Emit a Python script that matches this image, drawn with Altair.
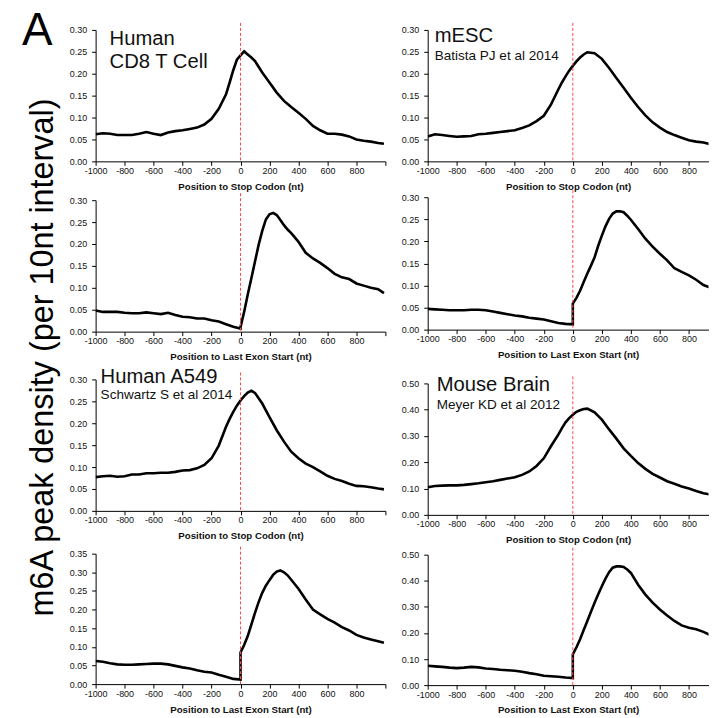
import altair as alt
import pandas as pd

# ---------------- data ----------------
STOP_POS = [-1000, -950, -900, -850, -800, -750, -700, -650, -600, -550,
            -500, -450, -400, -350, -300, -250, -200, -150, -100,
            -75, -50, -25, 0, 25, 50, 75, 100,
            150, 200, 250, 300, 350, 400, 450, 500, 550, 600, 650, 700, 750,
            800, 850, 900, 950, 990]

EXON_POS = [-1000, -950, -900, -850, -800, -750, -700, -650, -600, -550,
            -500, -450, -400, -350, -300, -250, -200, -150, -100, -50,
            0, 0,
            25, 50, 75, 100, 125, 150, 175, 200, 225, 250, 275, 300, 325, 350, 375, 400,
            450, 500, 550, 600, 650, 700, 750, 800, 850, 900, 950, 990]

cd8_stop = [0.062, 0.064, 0.063, 0.060, 0.060, 0.060, 0.063, 0.067, 0.063, 0.060,
            0.066, 0.069, 0.071, 0.074, 0.077, 0.084, 0.097, 0.120, 0.153,
            0.180, 0.208, 0.232, 0.242, 0.251, 0.244, 0.237, 0.229,
            0.203, 0.180, 0.157, 0.138, 0.124, 0.111, 0.097, 0.081, 0.071, 0.063, 0.063, 0.061, 0.057,
            0.050, 0.047, 0.045, 0.042, 0.040]

mesc_stop = [0.057, 0.062, 0.060, 0.058, 0.056, 0.057, 0.058, 0.062, 0.063, 0.065,
             0.067, 0.069, 0.071, 0.076, 0.082, 0.092, 0.104, 0.130, 0.164,
             0.180, 0.194, 0.207, 0.218, 0.228, 0.237, 0.244, 0.249,
             0.247, 0.234, 0.213, 0.190, 0.168, 0.145, 0.124, 0.105, 0.089, 0.077, 0.067, 0.060, 0.054,
             0.048, 0.045, 0.043, 0.039, 0.037]

a549_stop = [0.077, 0.079, 0.080, 0.078, 0.079, 0.083, 0.083, 0.086, 0.086, 0.087,
             0.087, 0.089, 0.092, 0.093, 0.097, 0.105, 0.120, 0.149, 0.192,
             0.210, 0.226, 0.240, 0.252, 0.262, 0.270, 0.274, 0.269,
             0.245, 0.214, 0.184, 0.158, 0.135, 0.120, 0.108, 0.100, 0.090, 0.080, 0.073, 0.068, 0.062,
             0.057, 0.056, 0.054, 0.051, 0.049]

brain_stop = [0.105, 0.110, 0.111, 0.112, 0.112, 0.114, 0.117, 0.120, 0.124, 0.128,
              0.133, 0.138, 0.143, 0.152, 0.165, 0.186, 0.215, 0.262, 0.305,
              0.330, 0.352, 0.368, 0.381, 0.392, 0.398, 0.403, 0.404,
              0.390, 0.362, 0.325, 0.290, 0.253, 0.224, 0.197, 0.175, 0.156, 0.142, 0.128, 0.118, 0.108,
              0.100, 0.091, 0.082, 0.077, 0.075]

cd8_exon = [0.048, 0.045, 0.045, 0.045, 0.043, 0.042, 0.042, 0.044, 0.042, 0.040,
            0.043, 0.038, 0.034, 0.033, 0.030, 0.030, 0.026, 0.023, 0.017, 0.011,
            0.007, 0.010,
            0.045, 0.085, 0.122, 0.160, 0.198, 0.230, 0.256, 0.268, 0.271, 0.266, 0.255, 0.243,
            0.233, 0.225, 0.215, 0.205,
            0.180, 0.167, 0.157, 0.145, 0.132, 0.124, 0.120, 0.110, 0.105, 0.100, 0.097, 0.088]

mesc_exon = [0.047, 0.046, 0.045, 0.044, 0.044, 0.044, 0.045, 0.045, 0.044, 0.041,
             0.038, 0.035, 0.032, 0.030, 0.027, 0.025, 0.023, 0.019, 0.015, 0.013,
             0.012, 0.059,
             0.072, 0.088, 0.108, 0.127, 0.145, 0.164, 0.190, 0.213, 0.234, 0.251, 0.263, 0.268,
             0.268, 0.266, 0.258, 0.249,
             0.228, 0.206, 0.188, 0.172, 0.157, 0.139, 0.131, 0.123, 0.113, 0.101, 0.095, 0.092]

a549_exon = [0.062, 0.060, 0.056, 0.053, 0.052, 0.052, 0.053, 0.054, 0.055, 0.055,
             0.053, 0.049, 0.045, 0.042, 0.037, 0.033, 0.031, 0.025, 0.020, 0.014,
             0.012, 0.085,
             0.105, 0.129, 0.160, 0.191, 0.220, 0.245, 0.264, 0.279, 0.293, 0.302, 0.305, 0.300,
             0.292, 0.280, 0.268, 0.256,
             0.227, 0.200, 0.187, 0.175, 0.165, 0.153, 0.144, 0.132, 0.125, 0.120, 0.115, 0.111]

brain_exon = [0.074, 0.072, 0.070, 0.067, 0.065, 0.067, 0.070, 0.068, 0.064, 0.062,
              0.059, 0.057, 0.055, 0.051, 0.046, 0.042, 0.036, 0.034, 0.032, 0.029,
              0.027, 0.118,
              0.145, 0.176, 0.211, 0.246, 0.281, 0.316, 0.348, 0.379, 0.408, 0.433, 0.450, 0.455,
              0.455, 0.453, 0.443, 0.430,
              0.385, 0.347, 0.316, 0.290, 0.267, 0.246, 0.229, 0.220, 0.214, 0.204, 0.191, 0.186]

Y30 = [0, 0.05, 0.10, 0.15, 0.20, 0.25, 0.30]
Y35 = [0, 0.05, 0.10, 0.15, 0.20, 0.25, 0.30, 0.35]
Y50 = [0, 0.10, 0.20, 0.30, 0.40, 0.50]

STOP_TITLE = "Position to Stop Codon (nt)"
EXON_TITLE = "Position to Last Exon Start (nt)"

FONT = "Liberation Sans"
LEFT_W, RIGHT_W = 291, 282
LEFT_XMAX, RIGHT_XMAX = 1000, 935


def panel(pos, vals, ymax, yticks, xtitle, width, height, xmax, xticks, texts):
    df = pd.DataFrame({"pos": pos, "val": vals, "i": list(range(len(pos)))})
    xenc = alt.X("pos:Q",
                 scale=alt.Scale(domain=[-1000, xmax], nice=False, zero=False),
                 axis=alt.Axis(values=xticks, title=xtitle, labelFlush=False, labelOverlap=False,
                               labelExpr="datum.value >= 1000 ? '' : '' + datum.value"))
    yenc = alt.Y("val:Q",
                 scale=alt.Scale(domain=[0, ymax], nice=False, zero=True),
                 axis=alt.Axis(values=yticks, format=".2f", title=None, labelOverlap=False))
    line = alt.Chart(df).mark_line(color="black", strokeWidth=2.6, clip=True).encode(
        x=xenc, y=yenc, order="i:Q")
    rule = alt.Chart(pd.DataFrame({"pos": [0]})).mark_rule(
        color="#ff4a4a", strokeWidth=1, strokeDash=[3, 2]).encode(
        x=xenc, y=alt.value(-7), y2=alt.value(height))
    layers = [line, rule]
    for (txt, tx, ty, size, extra) in texts:
        props = dict(align="left", baseline="alphabetic", font=FONT, fontSize=size, color="#111")
        props.update(extra)
        layers.append(
            alt.Chart(pd.DataFrame({"k": [0]})).mark_text(**props).encode(
                x=alt.value(tx), y=alt.value(ty), text=alt.value(txt)))
    return alt.layer(*layers).properties(width=width, height=height)


def spacer(width, height):
    return alt.Chart(pd.DataFrame({"k": [0]})).mark_point(opacity=0, size=1).encode(
        x=alt.value(1), y=alt.value(1)).properties(width=width, height=height)


LX = list(range(-1000, 1001, 200))
RX = list(range(-1000, 801, 200))

p1 = panel(STOP_POS, cd8_stop, 0.30, Y30, STOP_TITLE, LEFT_W, 132, LEFT_XMAX, LX, [
    ("Human", 14, 15, 20.3, {}),
    ("CD8 T Cell", 14, 38.5, 20.3, {}),
    ("A", -74, 15, 46, {"color": "#000"}),
    ("m6A peak density (per 10nt interval)", -43, 329, 32.5,
     {"angle": 270, "align": "center", "color": "#000"}),
])
p3 = panel(EXON_POS, cd8_exon, 0.30, Y30, EXON_TITLE, LEFT_W, 132, LEFT_XMAX, LX, [])
p5 = panel(STOP_POS, a549_stop, 0.30, Y30, STOP_TITLE, LEFT_W, 132, LEFT_XMAX, LX, [
    ("Human A549", 5, 3.3, 20.3, {}),
    ("Schwartz S et al 2014", 5, 19.3, 13.6, {}),
])
p7 = panel(EXON_POS, a549_exon, 0.35, Y35, EXON_TITLE, LEFT_W, 131, LEFT_XMAX, LX, [])

p2 = panel(STOP_POS, mesc_stop, 0.30, Y30, STOP_TITLE, RIGHT_W, 132, RIGHT_XMAX, RX, [
    ("mESC", 7, 12.4, 20.3, {}),
    ("Batista PJ et al 2014", 7, 30, 13.6, {}),
])
p4 = panel(EXON_POS, mesc_exon, 0.30, Y30, EXON_TITLE, RIGHT_W, 133, RIGHT_XMAX, RX, [])
p6 = panel(STOP_POS, brain_stop, 0.50, Y50, STOP_TITLE, RIGHT_W, 132, RIGHT_XMAX, RX, [
    ("Mouse Brain", 9, 7.4, 20.3, {}),
    ("Meyer KD et al 2012", 9, 26, 13.6, {}),
])
p8 = panel(EXON_POS, brain_exon, 0.50, Y50, EXON_TITLE, RIGHT_W, 131, RIGHT_XMAX, RX, [])

left_col = alt.vconcat(
    p1, spacer(LEFT_W, 39), p3, spacer(LEFT_W, 48), p5, spacer(LEFT_W, 43), p7,
    spacing=0, bounds="flush")
right_col = alt.vconcat(
    p2, spacer(RIGHT_W, 36), p4, spacer(RIGHT_W, 54), p6, spacer(RIGHT_W, 40), p8,
    spacing=0, bounds="flush")

chart = alt.hconcat(left_col, right_col, spacing=14.5).properties(
    padding={"left": 14, "top": -1.5, "right": 0, "bottom": 0},
    background="white",
).configure_view(stroke=None).configure_axis(
    grid=False,
    domainColor="#000", domainWidth=1,
    tickColor="#000", tickSize=4, tickWidth=1,
    labelFont=FONT, labelFontSize=9, labelColor="#111",
    titleFont=FONT, titleFontSize=9.7, titleFontWeight="bold", titleColor="#111",
).configure_axisX(labelPadding=1, titlePadding=6).configure_axisY(labelPadding=5)

chart.save("out.html", embed_options={"renderer": "svg", "actions": False})
